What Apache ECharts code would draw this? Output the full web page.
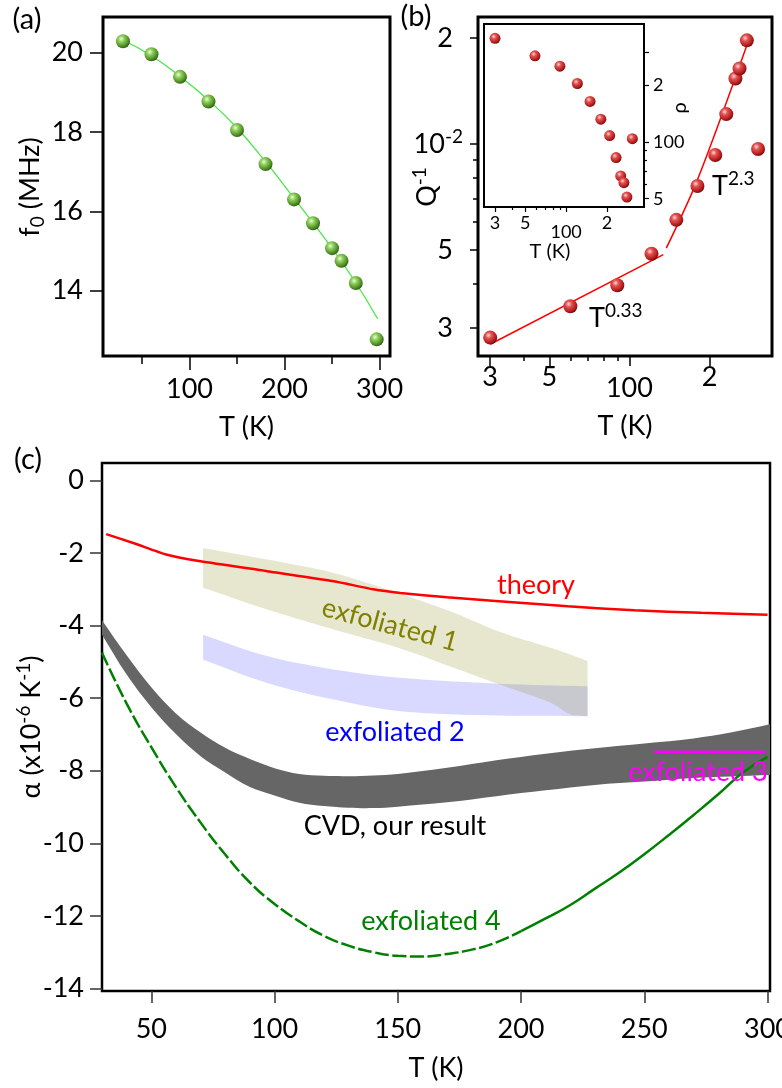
<!DOCTYPE html>
<html>
<head>
<meta charset="utf-8">
<script src="https://cdn.jsdelivr.net/npm/echarts@6/dist/echarts.min.js"></script>
<style>
html,body{margin:0;padding:0;background:#fff;}
#main{width:782px;height:1088px;}
</style>
</head>
<body>
<div id="main"></div>
<script>
/* (a) resonance frequency */
var tempA = [30, 60, 90, 120, 150, 180, 210, 230, 250, 260, 275, 297];
var freqA = [20.29, 19.96, 19.39, 18.77, 18.05, 17.19, 16.30, 15.70, 15.07, 14.75, 14.19, 12.77];
var fitTempA = [30, 60, 90, 120, 150, 180, 210, 240, 270, 298];
var fitFreqA = [20.32, 19.92, 19.4, 18.8, 18.1, 17.25, 16.33, 15.39, 14.38, 13.29];
var xTickA = [100, 200, 300];
var xMinorA = [50, 150, 250];
var yTickA = [14, 16, 18, 20];

/* (b) dissipation, log-log */
var tempB = [30, 60, 90, 121, 150, 180, 210, 231, 250, 259, 276, 304];
var lossB = [0.00282, 0.00346, 0.00397, 0.00488, 0.00609, 0.0076, 0.00931, 0.01216, 0.01535, 0.01639, 0.0197, 0.00968];
var fitLowT = [30, 134];
var fitLowQ = [0.0027, 0.00485];
var fitHighT = [137.5, 180, 276];
var fitHighQ = [0.00506, 0.00791, 0.01908];
var xTickB = [30, 50, 100, 200];
var xTickLabelB = ['3', '5', '100', '2'];
var xMinorB = [40, 60, 70, 80, 90];
var yTickB = [0.003, 0.005, 0.01, 0.02];
var yTickLabelB = ['3', '5', '10^-2', '2'];
var yMinorB = [0.004, 0.006, 0.007, 0.008, 0.009];

/* (b) inset */
var tempIn = [30, 59, 90, 121, 150, 180, 209, 233, 252, 266, 280, 307];
var rhoIn = [354, 286, 252, 204, 164, 132, 108, 82.6, 66, 60.8, 51, 104];
var yTickIn = [50, 100, 200, 300];
var yTickLabelIn = ['5', '100', '2', ''];
var yMinorIn = [60, 70, 80, 90];

/* (c) thermal expansion */
var tempTheory = [31.7, 43, 56, 70, 97, 124, 140, 151, 170, 191, 219, 246, 273, 300];
var alphaTheory = [-1.48, -1.73, -2.04, -2.23, -2.50, -2.78, -3.0, -3.10, -3.22, -3.33, -3.47, -3.58, -3.65, -3.70];
var tempCvd = [30, 40, 50, 60, 70, 80, 90, 100, 110, 120, 130, 140, 150, 170, 190, 210, 230, 250, 270, 285, 301];
var cvdLow = [-4.25, -5.35, -6.25, -6.99, -7.60, -8.05, -8.45, -8.68, -8.88, -8.97, -9.02, -9.03, -8.99, -8.87, -8.70, -8.54, -8.39, -8.30, -8.20, -8.16, -8.12];
var cvdHigh = [-3.85, -4.82, -5.70, -6.42, -6.95, -7.37, -7.68, -7.93, -8.09, -8.14, -8.15, -8.13, -8.09, -7.92, -7.71, -7.53, -7.38, -7.25, -7.11, -6.95, -6.72];
var tempEx1 = [71, 97, 124, 151, 171, 191, 212, 220, 227];
var ex1Low = [-2.96, -3.56, -4.11, -4.63, -5.12, -5.62, -6.13, -6.45, -6.50];
var ex1High = [-1.86, -2.18, -2.55, -3.12, -3.60, -4.16, -4.61, -4.80, -4.98];
var tempEx2 = [71, 97, 124, 151, 191, 227];
var ex2Low = [-4.94, -5.58, -6.04, -6.36, -6.48, -6.50];
var ex2High = [-4.25, -4.84, -5.21, -5.44, -5.60, -5.67];
var tempEx3 = [254, 299];
var alphaEx3 = [-7.48, -7.48];
var tempEx4 = [30, 40, 50, 60, 70, 80, 90, 100, 110, 120, 130, 140, 150, 160, 170, 180, 190, 200, 210, 220, 230, 240, 250, 260, 270, 280, 290, 300];
var alphaEx4 = [-4.75, -6.15, -7.35, -8.45, -9.43, -10.31, -11.08, -11.67, -12.15, -12.55, -12.82, -13.0, -13.1, -13.12, -13.05, -12.93, -12.73, -12.42, -12.07, -11.7, -11.25, -10.8, -10.3, -9.77, -9.22, -8.65, -8.05, -7.62];
var ex4DashEnd = 200;
var xTickC = [50, 100, 150, 200, 250, 300];
var yTickC = [-14, -12, -10, -8, -6, -4, -2, 0];

var FONT = 'Lato, "DejaVu Sans", sans-serif';
var lg = Math.log10;

//小球渐变
function sphere(c0, c1, c2, c3) {
    return {
        type: 'radial', x: 0.38, y: 0.34, r: 0.72,
        colorStops: [{offset: 0, color: c0}, {offset: 0.3, color: c1}, {offset: 0.75, color: c2}, {offset: 1, color: c3}]
    };
}

function pairs(xs, ys, fx, fy) {
    return xs.map(function (x, i) {
        return [fx ? fx(x) : x, fy ? fy(ys[i]) : ys[i]];
    });
}

//对数轴的刻度文字
function logLabel(ticks, labels, rich) {
    return function (v) {
        for (var i = 0; i < ticks.length; i++) {
            if (Math.abs(lg(ticks[i]) - v) < 1e-6) return rich(labels[i]);
        }
        return '';
    };
}

function axis(o) {
    var base = {
        type: 'value', scale: true,
        axisLine: {show: false, onZero: false},
        splitLine: {show: false},
        axisTick: {show: false},
        axisLabel: {show: false}
    };
    for (var k in o) base[k] = o[k];
    return base;
}

function ticks(vals, len, color, width) {
    return {show: true, inside: false, length: len, customValues: vals, lineStyle: {color: color || '#000', width: width || 1.5}};
}

function labels(vals, margin, size, extra) {
    var l = {show: true, customValues: vals, margin: margin, fontSize: size, fontFamily: FONT, color: '#000'};
    for (var k in extra) l[k] = extra[k];
    return l;
}

var nameStyle = {fontSize: 27, fontFamily: FONT, color: '#000'};

//填充带：上下边各自平滑，两端保持竖直
function band(temps, low, high, fill, z) {
    return {
        type: 'custom', xAxisIndex: 6, yAxisIndex: 5, z: z, silent: true, clip: true,
        data: temps.map(function (t, i) { return [t, low[i], high[i]]; }),
        encode: {x: 0, y: [1, 2]},
        renderItem: function (params, api) {
            if (params.dataIndex !== 0) return null;
            var n = temps.length, pts = [];
            pts.push(api.coord([temps[0], high[0]]));
            for (var i = 0; i < n; i++) pts.push(api.coord([temps[i], high[i]]));
            pts.push(api.coord([temps[n - 1], high[n - 1]]));
            pts.push(api.coord([temps[n - 1], low[n - 1]]));
            for (var j = n - 1; j >= 0; j--) pts.push(api.coord([temps[j], low[j]]));
            pts.push(api.coord([temps[0], low[0]]));
            return {type: 'polygon', shape: {points: pts, smooth: 0.35}, style: {fill: fill}};
        }
    };
}

function txt(x, y, text, color, size, extra) {
    var e = {
        type: 'text', x: x, y: y, z: 100,
        style: {text: text, fill: color, font: size + 'px ' + FONT, align: 'center', verticalAlign: 'middle'}
    };
    for (var k in extra) {
        if (k === 'style') { for (var s in extra.style) e.style[s] = extra.style[s]; }
        else e[k] = extra[k];
    }
    return e;
}

var supRich = {
    m: {fontSize: 27, fontFamily: FONT, lineHeight: 34, color: '#000'},
    s: {fontSize: 19, fontFamily: FONT, lineHeight: 34, verticalAlign: 'top', color: '#000'},
    d: {fontSize: 19, fontFamily: FONT, lineHeight: 34, verticalAlign: 'bottom', color: '#000'}
};

var greenBall = sphere('#eaffd8', '#8fcf5c', '#4c8a24', '#274f0e');
var redBall = sphere('#ffd6d6', '#e25252', '#b31a1a', '#5c0505');

var ex4Dash = [], ex4Solid = [];
tempEx4.forEach(function (t, i) {
    if (t <= ex4DashEnd) ex4Dash.push([t, alphaEx4[i]]);
    if (t >= ex4DashEnd) ex4Solid.push([t, alphaEx4[i]]);
});

var option = {
    animation: false,
    backgroundColor: '#fff',
    grid: [
        {left: 103, top: 17, width: 287, height: 339, show: true, borderColor: '#000', borderWidth: 3, backgroundColor: 'transparent', outerBoundsMode: 'none'},
        {left: 478, top: 17, width: 294, height: 339, show: true, borderColor: '#000', borderWidth: 3, backgroundColor: 'transparent', outerBoundsMode: 'none'},
        {left: 484, top: 24, width: 160, height: 183, show: true, borderColor: '#000', borderWidth: 2, backgroundColor: '#fff', outerBoundsMode: 'none'},
        {left: 102, top: 463, width: 668, height: 528, show: true, borderColor: '#000', borderWidth: 2.5, backgroundColor: 'transparent', outerBoundsMode: 'none'}
    ],
    xAxis: [
        axis({gridIndex: 0, position: 'bottom', min: 9, max: 311, axisTick: ticks(xTickA, 14), axisLabel: labels(xTickA, 20, 27),
            name: 'T (K)', nameLocation: 'middle', nameGap: 58, nameTextStyle: nameStyle}),
        axis({gridIndex: 0, position: 'bottom', min: 9, max: 311, axisTick: ticks(xMinorA, 8)}),
        axis({gridIndex: 1, position: 'bottom', min: lg(27), max: lg(343), axisTick: ticks(xTickB.map(lg), 10),
            axisLabel: labels(xTickB.map(lg), 8, 27, {
                formatter: logLabel(xTickB, xTickLabelB, function (s) { return s === '100' ? '{lo|100}' : s; }),
                rich: {lo: {fontSize: 27, fontFamily: FONT, padding: [11, 0, 0, 0], color: '#000'}}
            }),
            name: 'T (K)', nameLocation: 'middle', nameGap: 57, nameTextStyle: nameStyle}),
        axis({gridIndex: 1, position: 'bottom', min: lg(27), max: lg(343), axisTick: ticks(xMinorB.map(lg), 5)}),
        axis({gridIndex: 2, position: 'bottom', min: lg(24.9), max: lg(374), axisTick: ticks(xTickB.map(lg), 5, '#000', 1.2),
            axisLabel: labels(xTickB.map(lg), 7, 18, {
                formatter: logLabel(xTickB, xTickLabelB, function (s) { return s === '100' ? '{lo|100}' : s; }),
                rich: {lo: {fontSize: 18, fontFamily: FONT, padding: [9, 0, 0, 0], color: '#000'}}
            })}),
        axis({gridIndex: 2, position: 'bottom', min: lg(24.9), max: lg(374), axisTick: ticks(xMinorB.map(lg), 3, '#000', 1.2)}),
        axis({gridIndex: 3, position: 'bottom', min: 30, max: 301, axisTick: ticks(xTickC, 12, '#333'), axisLabel: labels(xTickC, 25, 27),
            name: 'T (K)', nameLocation: 'middle', nameGap: 64, nameTextStyle: nameStyle})
    ],
    yAxis: [
        axis({gridIndex: 0, position: 'left', min: 12.35, max: 20.9, axisTick: ticks(yTickA, 13), axisLabel: labels(yTickA, 20, 27)}),
        axis({gridIndex: 1, position: 'left', min: lg(0.0025), max: lg(0.02295), axisTick: ticks(yTickB.map(lg), 8),
            axisLabel: labels(yTickB.map(lg), 15, 27, {
                formatter: logLabel(yTickB, yTickLabelB, function (s) {
                    return s === '10^-2' ? '{m|10}{s|-2}' : '{p|' + s + '}';
                }),
                rich: {
                    m: supRich.m, s: supRich.s,
                    p: {fontSize: 27, fontFamily: FONT, lineHeight: 34, padding: [0, 10, 0, 0], color: '#000'}
                }
            })}),
        axis({gridIndex: 1, position: 'left', min: lg(0.0025), max: lg(0.02295), axisTick: ticks(yMinorB.map(lg), 5)}),
        axis({gridIndex: 2, position: 'right', min: lg(45.2), max: lg(421.7), axisTick: ticks(yTickIn.map(lg), 5, '#000', 1.2),
            axisLabel: labels(yTickIn.map(lg), 9, 18, {
                formatter: logLabel(yTickIn, yTickLabelIn, function (s) { return s; })
            })}),
        axis({gridIndex: 2, position: 'right', min: lg(45.2), max: lg(421.7), axisTick: ticks(yMinorIn.map(lg), 3, '#000', 1.2)}),
        axis({gridIndex: 3, position: 'left', min: -14.07, max: 0.48, axisTick: ticks(yTickC, 12, '#333'), axisLabel: labels(yTickC, 18, 27)})
    ],
    series: [
        //(a)
        {type: 'line', xAxisIndex: 0, yAxisIndex: 0, data: pairs(fitTempA, fitFreqA), smooth: true, showSymbol: false,
            lineStyle: {color: '#3ee83e', width: 1.2}, z: 2, silent: true},
        {type: 'scatter', xAxisIndex: 0, yAxisIndex: 0, data: pairs(tempA, freqA), symbolSize: 14,
            itemStyle: {color: greenBall, opacity: 1}, z: 3},
        //(b)
        {type: 'line', xAxisIndex: 2, yAxisIndex: 1, data: pairs(fitLowT, fitLowQ, lg, lg), showSymbol: false,
            lineStyle: {color: '#ff0000', width: 1.5}, z: 2, silent: true},
        {type: 'line', xAxisIndex: 2, yAxisIndex: 1, data: pairs(fitHighT, fitHighQ, lg, lg), showSymbol: false, smooth: 0.3,
            lineStyle: {color: '#ff0000', width: 1.5}, z: 2, silent: true},
        {type: 'scatter', xAxisIndex: 2, yAxisIndex: 1, data: pairs(tempB, lossB, lg, lg), symbolSize: 14,
            itemStyle: {color: redBall, opacity: 1}, z: 3},
        //inset
        {type: 'scatter', xAxisIndex: 4, yAxisIndex: 3, data: pairs(tempIn, rhoIn, lg, lg), symbolSize: 11,
            itemStyle: {color: redBall, opacity: 1}, z: 5},
        //(c)
        band(tempEx2, ex2Low, ex2High, 'rgba(0,0,255,0.15)', 1),
        band(tempEx1, ex1Low, ex1High, 'rgba(128,128,0,0.19)', 2),
        band(tempCvd, cvdLow, cvdHigh, '#666666', 3),
        {type: 'line', xAxisIndex: 6, yAxisIndex: 5, data: pairs(tempTheory, alphaTheory), showSymbol: false, smooth: 0.2,
            lineStyle: {color: '#ff0000', width: 2.5}, z: 4, silent: true},
        {type: 'line', xAxisIndex: 6, yAxisIndex: 5, data: pairs(tempEx3, alphaEx3), showSymbol: false,
            lineStyle: {color: '#ff00ff', width: 2.5}, z: 4, silent: true},
        {type: 'line', xAxisIndex: 6, yAxisIndex: 5, data: ex4Dash, showSymbol: false, smooth: true,
            lineStyle: {color: '#008000', width: 2.5, type: [14, 3.5]}, z: 5, silent: true},
        {type: 'line', xAxisIndex: 6, yAxisIndex: 5, data: ex4Solid, showSymbol: false, smooth: true,
            lineStyle: {color: '#008000', width: 2.5}, z: 5, silent: true}
    ],
    graphic: {
        elements: [
            txt(27, 20, '(a)', '#000', 29),
            txt(416, 17, '(b)', '#000', 29),
            txt(28, 460, '(c)', '#000', 29),
            //轴标题
            txt(30, 187, '{m|f}{d|0}{m| (MHz)}', '#000', 27, {rotation: Math.PI / 2, style: {rich: supRich}}),
            txt(427, 187, '{m|Q}{s|-1}', '#000', 27, {rotation: Math.PI / 2, style: {rich: supRich}}),
            txt(31, 727, '{m|\u03b1 (x10}{s|-6}{m| K}{s|-1}{m|)}', '#000', 27, {rotation: Math.PI / 2, style: {rich: supRich}}),
            txt(550, 252, 'T (K)', '#000', 20),
            txt(680, 108, '\u03c1', '#000', 20, {rotation: Math.PI / 2}),
            //拟合指数
            txt(589, 318, '{m|T}{s|0.33}', '#000', 27, {style: {rich: supRich, align: 'left'}}),
            txt(712, 186, '{m|T}{s|2.3}', '#000', 27, {style: {rich: supRich, align: 'left'}}),
            //曲线说明
            txt(536, 585, 'theory', '#ff0000', 27),
            txt(390, 625, 'exfoliated 1', '#808000', 27, {rotation: -15 * Math.PI / 180}),
            txt(395, 732, 'exfoliated 2', '#0000ff', 27),
            txt(395, 826, 'CVD, our result', '#000', 27),
            txt(698, 772, 'exfoliated 3', '#ff00ff', 27),
            txt(431, 921, 'exfoliated 4', '#008000', 27)
        ]
    }
};

var myChart = echarts.init(document.getElementById('main'));
myChart.setOption(option);
</script>
</body>
</html>
